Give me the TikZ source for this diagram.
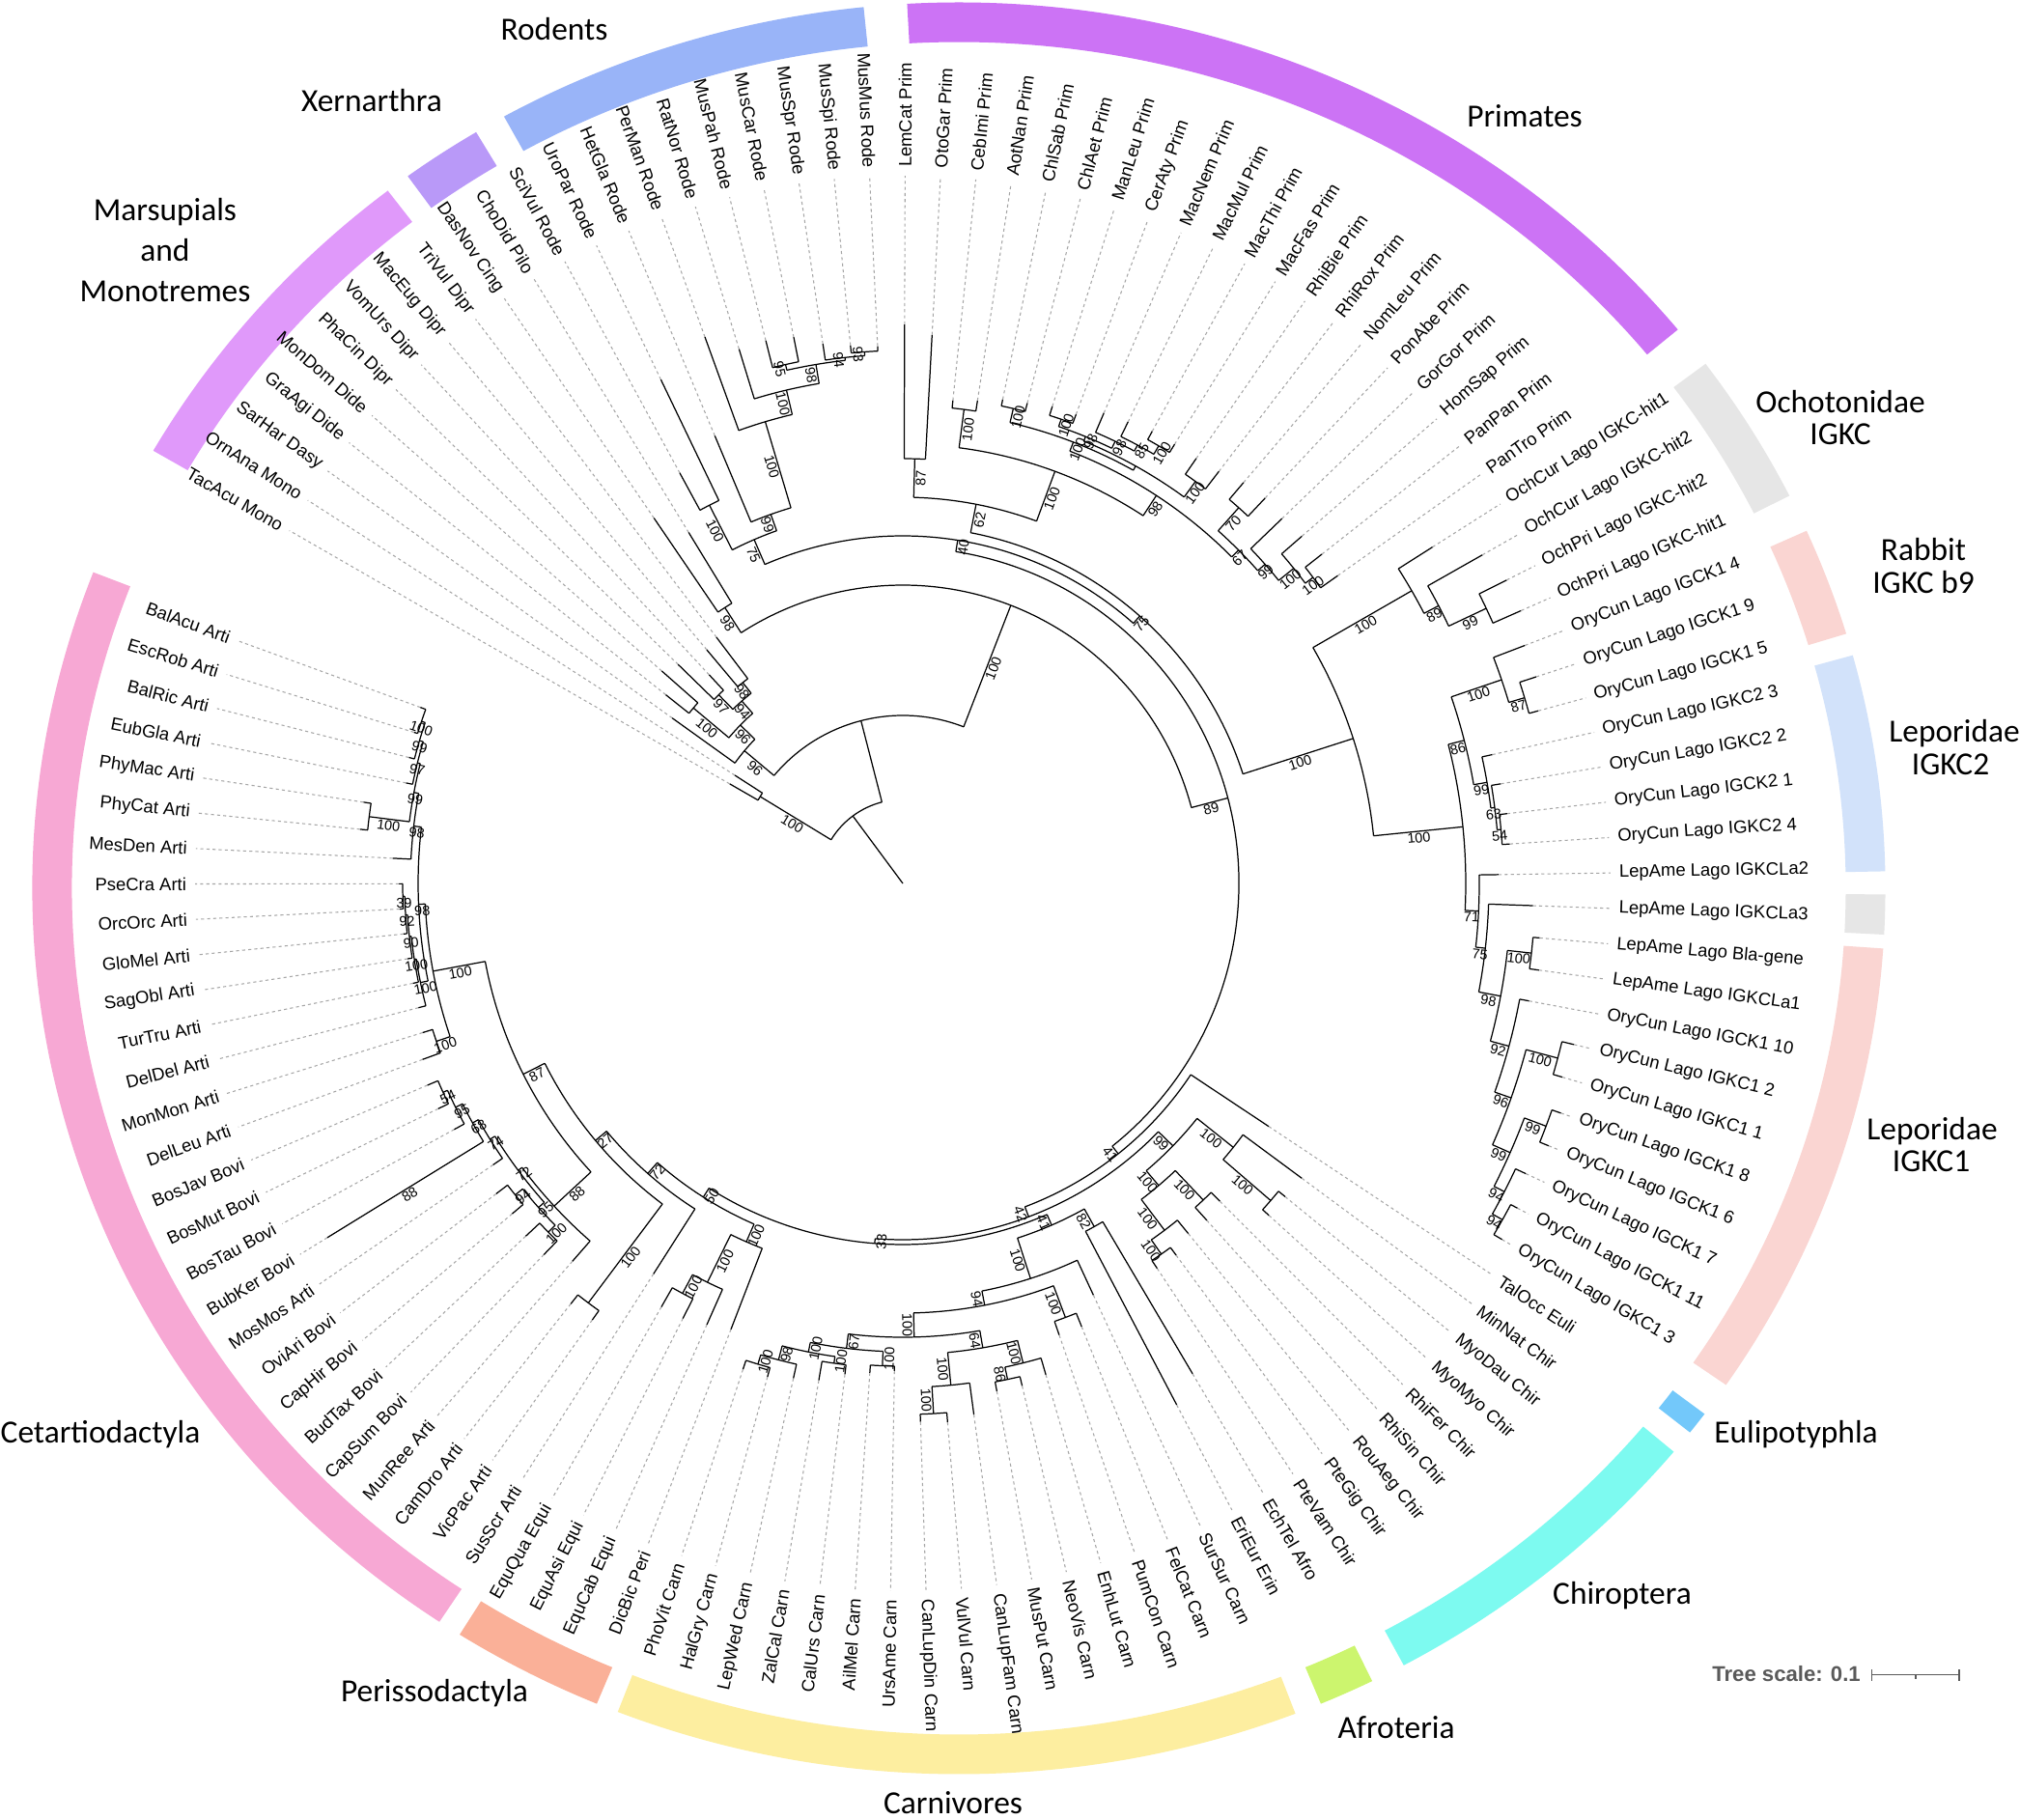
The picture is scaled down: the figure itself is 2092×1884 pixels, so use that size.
\documentclass[tikz,border=0pt]{standalone}
\usepackage{fontspec}
\setmainfont{Liberation Sans}
\newfontfamily\grpfont{Carlito}
\definecolor{cMar}{RGB}{224,153,250}
\definecolor{cXen}{RGB}{185,153,248}
\definecolor{cRod}{RGB}{153,180,248}
\definecolor{cPri}{RGB}{204,115,245}
\definecolor{cGry}{RGB}{230,230,230}
\definecolor{cPnk}{RGB}{250,213,210}
\definecolor{cBlu}{RGB}{210,226,250}
\definecolor{cEul}{RGB}{115,200,250}
\definecolor{cChi}{RGB}{125,250,240}
\definecolor{cAfr}{RGB}{204,245,110}
\definecolor{cCar}{RGB}{253,238,160}
\definecolor{cPer}{RGB}{250,176,152}
\definecolor{cCet}{RGB}{247,168,212}
\definecolor{cScl}{RGB}{90,90,90}
\tikzset{
 br/.style={line width=0.35pt, black},
 dsh/.style={line width=0.3pt, black!35, dash pattern=on 0.9pt off 0.9pt},
 lab/.style={font=\fontsize{5.25}{6}\selectfont, inner sep=0.4pt},
 bs/.style={font=\fontsize{4.1}{4.5}\selectfont, inner sep=0.3pt},
 grp/.style={font=\grpfont\fontsize{9.5}{11}\selectfont, inner sep=0pt, anchor=base},
}
\newcommand\K[1]{\csname k@#1\endcsname}
% clade: name, parent r, node r, first child k, last child k, bootstrap
\newcommand\nd[6]{%
  \pgfmathsetmacro\myk{((#4)+(#5))/2}%
  \expandafter\xdef\csname k@#1\endcsname{\myk}%
  \pgfmathsetmacro\mya{0.85+2.87*\myk}%
  \pgfmathsetmacro\myb{0.85+2.87*(#4)}%
  \pgfmathsetmacro\myc{0.85+2.87*(#5)}%
  \draw[br] (\mya:#2) -- (\mya:#3);%
  \draw[br] (\myb:#3) arc[start angle=\myb, end angle=\myc, radius={#3*0.01cm}];%
  \if\relax\detokenize{#6}\relax\else
    \pgfmathsetmacro\mymid{(#2+#3)/2}%
    \pgfmathsetmacro\myn{mod(\mya+720,360)}%
    \pgfmathtruncatemacro\myt{(\myn<90||\myn>270)?1:0}%
    \ifnum\myt=1 \pgfmathsetmacro\myrot{\mya}\else\pgfmathsetmacro\myrot{\mya+180}\fi
    \node[bs,rotate=\myrot,anchor=north] (bs-#1) at (\mya:\mymid) {#6};%
  \fi}
% leaf: k, parent r, tip r, text
\newcommand\tip[4]{%
  \pgfmathsetmacro\mya{0.85+2.87*(#1)}%
  \draw[br] (\mya:#2) -- (\mya:#3);%
  \draw[dsh] (\mya:#3) -- (\mya:733);%
  \pgfmathsetmacro\myn{mod(\mya+720,360)}%
  \pgfmathtruncatemacro\myt{(\myn<90||\myn>270)?1:0}%
  \ifnum\myt=1 \node[lab,anchor=west,rotate=\mya] (leaf#1) at (\mya:740) {#4};%
  \else\pgfmathsetmacro\myrot{\mya+180}\node[lab,anchor=east,rotate=\myrot] (leaf#1) at (\mya:740) {#4};\fi}
% ring segment: colour, t1, t2
\newcommand\seg[3]{%
  \fill[#1] (#2:9.59cm and 9.17cm) arc[start angle=#2, end angle=#3, x radius=9.59cm, y radius=9.17cm]
     -- (#3:9.18cm and 8.76cm) arc[start angle=#3, end angle=#2, x radius=9.18cm, y radius=8.76cm] -- cycle;}
\begin{document}
\begin{tikzpicture}[x=0.01cm,y=0.01cm]
\fill[white] (0,0) rectangle (2092,1884);
\useasboundingbox (0,0) rectangle (2092,1884);
% ---------------- coloured ring ----------------
\begin{scope}[shift={(993,964)}]
\seg{cPri}{93.2}{39.1}
\seg{cGry}{36.3}{26.3}
\seg{cPnk}{23.8}{16.7}
\seg{cBlu}{15.25}{1.1}
\seg{cGry}{-0.4}{-3.0}
\seg{cPnk}{-3.9}{-34.1}
\seg{cEul}{-36.4}{-37.9}
\seg{cChi}{-39.5}{-61.3}
\seg{cAfr}{-63.5}{-67.0}
\seg{cCar}{-68.7}{-111.6}
\seg{cPer}{-113.0}{-122.6}
\seg{cCet}{-124.1}{-200.9}
\seg{cMar}{150.4}{128.05}
\seg{cXen}{126.5}{121.4}
\seg{cRod}{119.4}{95.9}
\end{scope}
% ---------------- group labels ----------------
\node[grp] (gRod) at (574,1842) {Rodents};
\node[grp] (gXen) at (385,1768) {Xernarthra};
\node[grp] (gMar1) at (171,1655.7) {Marsupials};
\node[grp] (gMar2) at (171,1613.7) {and};
\node[grp] (gMar3) at (171,1571.6) {Monotremes};
\node[grp] (gPri) at (1579,1752.6) {Primates};
\node[grp] (gOch1) at (1906,1456.3) {Ochotonidae};
\node[grp] (gOch2) at (1906,1423.4) {IGKC};
\node[grp] (gRab1) at (1992,1303.3) {Rabbit};
\node[grp] (gRab2) at (1992,1269.2) {IGKC b9};
\node[grp] (gL2a) at (2024,1115) {Leporidae};
\node[grp] (gL2b) at (2020,1081) {IGKC2};
\node[grp] (gL1a) at (2001,703.3) {Leporidae};
\node[grp] (gL1b) at (2000,670.5) {IGKC1};
\node[grp] (gEul) at (1860,389.7) {Eulipotyphla};
\node[grp] (gChi) at (1680,222.7) {Chiroptera};
\node[grp] (gAfr) at (1446,83.3) {Afroteria};
\node[grp] (gCar) at (987,6) {Carnivores};
\node[grp] (gPer) at (450,121.4) {Perissodactyla};
\node[grp] (gCet) at (104,389.7) {Cetartiodactyla};
% ---------------- tree scale ----------------
\node[font=\bfseries\fontsize{6.3}{7}\selectfont, text=cScl, anchor=base, inner sep=0pt] (tsc) at (1850,142.2) {Tree scale: 0.1};
\coordinate (sb1) at (1938.4,149.4);
\coordinate (sb2) at (2028.9,149.4);
\coordinate (sbm) at (1983.7,149.4);
\draw[cScl, line width=0.45pt] (sb1) -- (sb2);
\draw[cScl, line width=0.45pt] ([yshift=-0.06cm]sb1) -- ([yshift=0.06cm]sb1);
\draw[cScl, line width=0.45pt] ([yshift=-0.06cm]sb2) -- ([yshift=0.06cm]sb2);
\draw[cScl, line width=0.45pt] (sbm) -- ([yshift=-0.04cm]sbm);
% ---------------- tree ----------------
\begin{scope}[shift={(935,969)}]
% Monotremes
\tip{52}{173}{207}{TacAcu Mono}
\tip{51}{173}{207}{OrnAna Mono}
\nd{mono}{87}{173}{52}{51}{100}
% Marsupials
\tip{50}{214}{294}{SarHar Dasy}
\tip{49}{283}{314}{GraAgi Dide}
\tip{48}{283}{333}{MonDom Dide}
\nd{dide}{235}{283}{49}{48}{100}
\tip{47}{273}{325}{PhaCin Dipr}
\tip{46}{273}{295}{VomUrs Dipr}
\nd{dpa}{252}{273}{47}{46}{97}
\tip{45}{266}{316}{MacEug Dipr}
\tip{44}{266}{320}{TriVul Dipr}
\nd{dpb}{252}{266}{45}{44}{98}
\nd{dipr}{235}{252}{\K{dpa}}{\K{dpb}}{94}
\nd{mab}{214}{235}{\K{dide}}{\K{dipr}}{96}
\nd{mars}{174}{214}{50}{\K{mab}}{96}
% Xenarthra
\tip{43}{340}{458}{DasNov Cing}
\tip{42}{340}{426}{ChoDid Pilo}
\nd{xen}{309}{340}{43}{42}{98}
% Rodents
\tip{41}{440}{484}{SciVul Rode}
\tip{40}{440}{579}{UroPar Rode}
\nd{sci}{388}{440}{41}{40}{100}
\tip{39}{406}{503}{HetGla Rode}
\tip{38}{499}{602}{PerMan Rode}
\tip{37}{525}{579}{RatNor Rode}
\tip{36}{551}{580}{MusPah Rode}
\tip{35}{551}{577}{MusCar Rode}
\nd{mpc}{545}{551}{36}{35}{95}
\tip{34}{548}{565}{MusSpr Rode}
\tip{33}{552}{560}{MusSpi Rode}
\tip{32}{552}{557}{MusMus Rode}
\nd{mm}{548}{552}{33}{32}{93}
\nd{mss}{545}{548}{34}{\K{mm}}{94}
\nd{mus}{525}{545}{\K{mpc}}{\K{mss}}{98}
\nd{rfour}{499}{525}{37}{\K{mus}}{100}
\nd{rthree}{406}{499}{38}{\K{rfour}}{100}
\nd{rtwo}{388}{406}{39}{\K{rthree}}{99}
\nd{rod}{360}{388}{\K{sci}}{\K{rtwo}}{75}
% Primates
\tip{31}{440}{579}{LemCat Prim}
\tip{30}{440}{569}{OtoGar Prim}
\nd{strep}{400}{440}{31}{30}{87}
\tip{29}{495}{503}{CebImi Prim}
\tip{28}{495}{506}{AotNan Prim}
\nd{plat}{455}{495}{29}{28}{100}
\tip{27}{505}{512}{ChlSab Prim}
\tip{26}{505}{514}{ChlAet Prim}
\nd{cercini}{490}{505}{27}{26}{100}
\tip{25}{508}{518}{ManLeu Prim}
\tip{24}{508}{518}{CerAty Prim}
\nd{mancer}{500}{508}{25}{24}{100}
\tip{23}{508}{530}{MacNem Prim}
\tip{22}{515}{532}{MacMul Prim}
\tip{21}{525}{535}{MacThi Prim}
\tip{20}{525}{535}{MacFas Prim}
\nd{macd}{515}{525}{21}{20}{100}
\nd{macc}{508}{515}{22}{\K{macd}}{85}
\nd{macb}{500}{508}{23}{\K{macc}}{98}
\nd{pap}{495}{500}{\K{mancer}}{\K{macb}}{98}
\tip{19}{515}{535}{RhiBie Prim}
\tip{18}{515}{538}{RhiRox Prim}
\nd{colob}{495}{515}{19}{18}{100}
\nd{pc}{490}{495}{\K{pap}}{\K{colob}}{}
\nd{cerc}{480}{490}{\K{cercini}}{\K{pc}}{100}
\tip{17}{522}{545}{NomLeu Prim}
\tip{16}{522}{548}{PonAbe Prim}
\nd{hba}{490}{522}{17}{16}{70}
\tip{15}{500}{545}{GorGor Prim}
\tip{14}{520}{548}{HomSap Prim}
\tip{13}{530}{552}{PanPan Prim}
\tip{12}{530}{552}{PanTro Prim}
\nd{hfive}{520}{530}{13}{12}{100}
\nd{hfour}{500}{520}{14}{\K{hfive}}{100}
\nd{hbb}{490}{500}{15}{\K{hfour}}{99}
\nd{hom}{480}{490}{\K{hba}}{\K{hbb}}{67}
\nd{cat}{455}{480}{\K{cerc}}{\K{hom}}{98}
\nd{haplo}{400}{455}{\K{plat}}{\K{cat}}{100}
\nd{prim}{370}{400}{\K{strep}}{\K{haplo}}{62}
% Lagomorpha
\tip{11}{608}{650}{OchCur Lago IGKC-hit1}
\tip{10}{625}{690}{OchCur Lago IGKC-hit2}
\tip{9}{668}{700}{OchPri Lago IGKC-hit2}
\tip{8}{668}{700}{OchPri Lago IGKC-hit1}
\nd{ochc}{625}{668}{9}{8}{99}
\nd{ochb}{608}{625}{10}{\K{ochc}}{89}
\nd{och}{490}{608}{11}{\K{ochb}}{100}
\tip{7}{655}{690}{OryCun Lago IGCK1 4}
\tip{6}{672}{690}{OryCun Lago IGCK1 9}
\tip{5}{672}{682}{OryCun Lago IGCK1 5}
\nd{aonb}{655}{672}{6}{5}{87}
\nd{aone}{600}{655}{7}{\K{aonb}}{100}
\tip{4}{614}{625}{OryCun Lago IGKC2 3}
\tip{3}{618}{628}{OryCun Lago IGKC2 2}
\tip{2}{622}{630}{OryCun Lago IGCK2 1}
\tip{1}{622}{630}{OryCun Lago IGKC2 4}
\nd{afour}{618}{622}{2}{1}{54}
\nd{athree}{614}{618}{3}{\K{afour}}{63}
\nd{atwo}{600}{614}{4}{\K{athree}}{99}
\nd{lepa}{583}{600}{\K{aone}}{\K{atwo}}{86}
\tip{0}{597}{617}{LepAme Lago IGKCLa2}
\tip{-1}{607}{653}{LepAme Lago IGKCLa3}
\tip{-2}{655}{662}{LepAme Lago Bla-gene}
\tip{-3}{655}{665}{LepAme Lago IGKCLa1}
\nd{bl}{630}{655}{-2}{-3}{100}
\tip{-4}{650}{660}{OryCun Lago IGCK1 10}
\tip{-5}{702}{715}{OryCun Lago IGKC1 2}
\tip{-6}{702}{712}{OryCun Lago IGKC1 1}
\nd{bfa}{668}{702}{-5}{-6}{100}
\tip{-7}{712}{722}{OryCun Lago IGCK1 8}
\tip{-8}{712}{722}{OryCun Lago IGCK1 6}
\nd{bsa}{688}{712}{-7}{-8}{99}
\tip{-9}{700}{712}{OryCun Lago IGCK1 7}
\tip{-10}{712}{720}{OryCun Lago IGCK1 11}
\tip{-11}{712}{722}{OryCun Lago IGKC1 3}
\nd{beight}{700}{712}{-10}{-11}{94}
\nd{bseven}{688}{700}{-9}{\K{beight}}{94}
\nd{bsix}{668}{688}{\K{bsa}}{\K{bseven}}{99}
\nd{bfive}{650}{668}{\K{bfa}}{\K{bsix}}{96}
\nd{bfour}{630}{650}{-4}{\K{bfive}}{92}
\nd{bthree}{607}{630}{\K{bl}}{\K{bfour}}{98}
\nd{btwo}{597}{607}{-1}{\K{bthree}}{75}
\nd{lepb}{583}{597}{0}{\K{btwo}}{71}
\nd{lep}{490}{583}{\K{lepa}}{\K{lepb}}{100}
\nd{lago}{370}{490}{\K{och}}{\K{lep}}{100}
\nd{y}{360}{370}{\K{lago}}{\K{prim}}{75}
\nd{euarch}{348}{360}{\K{rod}}{\K{y}}{40}
% Chiroptera
\tip{-13}{438}{514}{MinNat Chir}
\tip{-14}{503}{512}{MyoDau Chir}
\tip{-15}{503}{512}{MyoMyo Chir}
\nd{myo}{438}{503}{-14}{-15}{100}
\nd{yango}{390}{438}{-13}{\K{myo}}{100}
\tip{-16}{452}{465}{RhiFer Chir}
\tip{-17}{452}{470}{RhiSin Chir}
\nd{rhi}{410}{452}{-16}{-17}{100}
\tip{-18}{450}{468}{RouAeg Chir}
\tip{-19}{468}{478}{PteGig Chir}
\tip{-20}{468}{478}{PteVam Chir}
\nd{ptep}{450}{468}{-19}{-20}{100}
\nd{pter}{410}{450}{-18}{\K{ptep}}{100}
\nd{yinpt}{390}{410}{\K{rhi}}{\K{pter}}{100}
\nd{chir}{369}{390}{\K{yango}}{\K{yinpt}}{99}
% Afro / Erin
\tip{-21}{407}{590}{EchTel Afro}
\tip{-22}{407}{610}{EriEur Erin}
\nd{ee}{386}{407}{-21}{-22}{82}
% Carnivora
\tip{-23}{430}{470}{SurSur Carn}
\tip{-24}{480}{495}{FelCat Carn}
\tip{-25}{480}{495}{PumCon Carn}
\nd{fel}{445}{480}{-24}{-25}{100}
\tip{-26}{512}{530}{EnhLut Carn}
\tip{-27}{525}{535}{NeoVis Carn}
\tip{-28}{525}{535}{MusPut Carn}
\nd{mub}{512}{525}{-27}{-28}{86}
\nd{must}{488}{512}{-26}{\K{mub}}{100}
\tip{-29}{522}{555}{CanLupFam Carn}
\tip{-30}{550}{560}{VulVul Carn}
\tip{-31}{550}{558}{CanLupDin Carn}
\nd{cab}{522}{550}{-30}{-31}{100}
\nd{canid}{488}{522}{-29}{\K{cab}}{100}
\nd{zone}{470}{488}{\K{must}}{\K{canid}}{64}
\tip{-32}{500}{505}{UrsAme Carn}
\tip{-33}{500}{508}{AilMel Carn}
\nd{urs}{485}{500}{-32}{-33}{100}
\tip{-34}{502}{512}{CalUrs Carn}
\tip{-35}{502}{522}{ZalCal Carn}
\nd{otar}{495}{502}{-34}{-35}{100}
\tip{-36}{510}{525}{LepWed Carn}
\tip{-37}{520}{530}{HalGry Carn}
\tip{-38}{520}{530}{PhoVit Carn}
\nd{hp}{510}{520}{-37}{-38}{100}
\nd{phoc}{495}{510}{-36}{\K{hp}}{98}
\nd{pinn}{485}{495}{\K{otar}}{\K{phoc}}{100}
\nd{ztwo}{470}{485}{\K{urs}}{\K{pinn}}{67}
\nd{canif}{445}{470}{\K{zone}}{\K{ztwo}}{100}
\nd{cnf}{430}{445}{\K{fel}}{\K{canif}}{94}
\nd{carn}{386}{430}{-23}{\K{cnf}}{100}
\nd{lthree}{374}{386}{\K{ee}}{\K{carn}}{41}
% Perissodactyla
\tip{-39}{405}{495}{DicBic Peri}
\tip{-40}{460}{500}{EquCab Equi}
\tip{-41}{482}{505}{EquAsi Equi}
\tip{-42}{482}{505}{EquQua Equi}
\nd{eqaq}{460}{482}{-41}{-42}{100}
\nd{equus}{405}{460}{-40}{\K{eqaq}}{100}
\nd{peri}{385}{405}{-39}{\K{equus}}{100}
% Cetartiodactyla
\tip{-43}{400}{480}{SusScr Arti}
\tip{-44}{543}{555}{VicPac Arti}
\tip{-45}{543}{555}{CamDro Arti}
\nd{camel}{415}{543}{-44}{-45}{100}
\tip{-46}{492}{520}{MunRee Arti}
\tip{-47}{515}{535}{CapSum Bovi}
\tip{-48}{515}{535}{BudTax Bovi}
\nd{bc}{505}{515}{-47}{-48}{100}
\tip{-49}{515}{530}{CapHir Bovi}
\tip{-50}{515}{530}{OviAri Bovi}
\nd{oc}{505}{515}{-49}{-50}{94}
\nd{capr}{497}{505}{\K{bc}}{\K{oc}}{95}
\tip{-51}{503}{515}{MosMos Arti}
\tip{-52}{510}{700}{BubKer Bovi}
\tip{-53}{518}{530}{BosTau Bovi}
\tip{-54}{523}{535}{BosMut Bovi}
\tip{-55}{523}{535}{BosJav Bovi}
\nd{bfiftyfour}{518}{523}{-54}{-55}{54}
\nd{bninetyfive}{510}{518}{-53}{\K{bfiftyfour}}{95}
\nd{bsixtyeight}{503}{510}{-52}{\K{bninetyfive}}{68}
\nd{bovmos}{497}{503}{-51}{\K{bsixtyeight}}{74}
\nd{pecora}{492}{497}{\K{capr}}{\K{bovmos}}{72}
\nd{rum}{440}{492}{-46}{\K{pecora}}{88}
\pgfmathsetmacro\mya{0.85+2.87*(-52)}
\pgfmathsetmacro\myrot{\mya+180}
\node[bs,rotate=\myrot,anchor=north] (bs-bubker) at (\mya:604) {88};
\tip{-56}{510}{530}{DelLeu Arti}
\tip{-57}{510}{521}{MonMon Arti}
\nd{monod}{495}{510}{-56}{-57}{100}
\tip{-58}{510}{518}{DelDel Arti}
\tip{-59}{512}{518}{TurTru Arti}
\tip{-60}{514}{519}{SagObl Arti}
\tip{-61}{516}{520}{GloMel Arti}
\tip{-62}{518}{522}{OrcOrc Arti}
\tip{-63}{518}{522}{PseCra Arti}
\nd{dfive}{516}{518}{-62}{-63}{39}
\nd{dfour}{514}{516}{-61}{\K{dfive}}{92}
\nd{dthree}{512}{514}{-60}{\K{dfour}}{90}
\nd{dtwo}{510}{512}{-59}{\K{dthree}}{100}
\nd{delph}{502}{510}{-58}{\K{dtwo}}{100}
\tip{-64}{510}{529}{MesDen Arti}
\tip{-65}{557}{565}{PhyCat Arti}
\tip{-66}{557}{565}{PhyMac Arti}
\nd{phy}{515}{557}{-65}{-66}{100}
\tip{-67}{518}{525}{EubGla Arti}
\tip{-68}{522}{528}{BalRic Arti}
\tip{-69}{526}{530}{EscRob Arti}
\tip{-70}{526}{532}{BalAcu Arti}
\nd{mysc}{522}{526}{-69}{-70}{100}
\nd{mysb}{518}{522}{-68}{\K{mysc}}{99}
\nd{mys}{515}{518}{-67}{\K{mysb}}{97}
\nd{ca}{510}{515}{\K{phy}}{\K{mys}}{99}
\nd{cb}{502}{510}{-64}{\K{ca}}{98}
\nd{rest}{495}{502}{\K{delph}}{\K{cb}}{98}
\nd{ceta}{440}{495}{\K{monod}}{\K{rest}}{100}
\nd{neightyseven}{415}{440}{\K{rum}}{\K{ceta}}{87}
\nd{ntwentyseven}{400}{415}{\K{camel}}{\K{neightyseven}}{27}
\nd{nseventytwo}{385}{400}{-43}{\K{ntwentyseven}}{72}
\nd{nfifty}{374}{385}{\K{peri}}{\K{nseventytwo}}{50}
\nd{nthirtythree}{369}{374}{\K{lthree}}{\K{nfifty}}{33}
\nd{ltwo}{358}{369}{\K{chir}}{\K{nthirtythree}}{42}
\tip{-12}{358}{455}{TalOcc Euli}
\nd{lone}{348}{358}{-12}{\K{ltwo}}{41}
% backbone
\nd{x}{309}{348}{\K{euarch}}{\K{lone}}{89}
\nd{euth}{174}{309}{\K{xen}}{\K{x}}{100}
\nd{theria}{87}{174}{\K{mars}}{\K{euth}}{}
\nd{root}{0}{87}{\K{mono}}{\K{theria}}{}
\end{scope}
\end{tikzpicture}
\end{document}
